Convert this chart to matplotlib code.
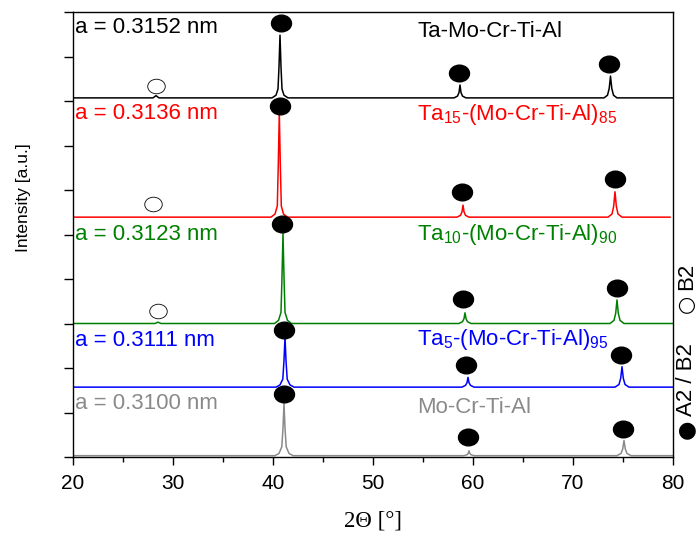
"""Stacked XRD patterns of Ta-Mo-Cr-Ti-Al alloys with lattice parameters."""
import matplotlib

matplotlib.use("Agg")
import matplotlib.pyplot as plt  # noqa: E402
from matplotlib.markers import MarkerStyle  # noqa: E402
from matplotlib.transforms import Affine2D  # noqa: E402

plt.rcParams["font.family"] = ["Liberation Sans", "DejaVu Sans"]
plt.rcParams["mathtext.fontset"] = "custom"
plt.rcParams["mathtext.rm"] = "Liberation Sans"

# --- data ----------------------------------------------------------------
compositions = [
    "Ta-Mo-Cr-Ti-Al",
    r"Ta$_\mathregular{15}$-(Mo-Cr-Ti-Al)$_\mathregular{85}$",
    r"Ta$_\mathregular{10}$-(Mo-Cr-Ti-Al)$_\mathregular{90}$",
    r"Ta$_\mathregular{5}$-(Mo-Cr-Ti-Al)$_\mathregular{95}$",
    "Mo-Cr-Ti-Al",
]
lattice = ["a = 0.3152 nm", "a = 0.3136 nm", "a = 0.3123 nm",
           "a = 0.3111 nm", "a = 0.3100 nm"]
colors = ["black", "#ff0000", "#008000", "#0000ff", "#8a8a8a"]
offsets = [8.07, 5.39, 3.00, 1.57, 0.03]

two_theta = [
    [20, 28.0, 28.3, 28.6, 39.9, 40.3, 40.5, 40.6, 40.7, 40.8, 40.9, 41.1, 41.5,
     58.1, 58.45, 58.6, 58.7, 58.8, 58.95, 59.3,
     73.1, 73.45, 73.62, 73.75, 73.88, 74.05, 74.4, 80],
    [20, 39.8, 40.2, 40.43, 40.53, 40.63, 40.73, 40.83, 41.05, 41.45,
     58.4, 58.75, 58.9, 59.0, 59.1, 59.25, 59.6,
     73.5, 73.9, 74.07, 74.2, 74.33, 74.5, 74.9, 79.7],
    [20, 28.2, 28.5, 28.8, 40.15, 40.55, 40.8, 40.9, 41.0, 41.1, 41.2, 41.45, 41.85,
     58.6, 58.95, 59.1, 59.2, 59.3, 59.45, 59.8,
     73.7, 74.1, 74.27, 74.4, 74.53, 74.7, 75.1, 80],
    [20, 40.3, 40.7, 40.98, 41.1, 41.2, 41.3, 41.42, 41.7, 42.1,
     58.9, 59.25, 59.4, 59.5, 59.6, 59.75, 60.1,
     74.2, 74.6, 74.77, 74.9, 75.03, 75.2, 75.6, 80],
    [20, 40.2, 40.6, 40.88, 41.0, 41.1, 41.2, 41.32, 41.6, 42.0,
     59.1, 59.4, 59.52, 59.6, 59.68, 59.8, 60.1,
     74.4, 74.8, 74.97, 75.1, 75.23, 75.4, 75.8, 80],
]
intensity = [
    [0, 0, 0.05, 0, 0, 0.06, 0.2, 0.7, 1.41, 0.7, 0.2, 0.06, 0,
     0, 0.04, 0.12, 0.29, 0.12, 0.04, 0,
     0, 0.06, 0.21, 0.49, 0.21, 0.06, 0, 0],
    [0, 0, 0.07, 0.25, 1.2, 2.34, 1.2, 0.25, 0.07, 0,
     0, 0.04, 0.12, 0.27, 0.12, 0.04, 0,
     0, 0.07, 0.25, 0.57, 0.25, 0.07, 0, 0],
    [0, 0, 0.03, 0, 0, 0.07, 0.25, 1.05, 2.03, 1.05, 0.25, 0.07, 0,
     0, 0.04, 0.11, 0.24, 0.11, 0.04, 0,
     0, 0.07, 0.23, 0.53, 0.23, 0.07, 0, 0],
    [0, 0, 0.05, 0.18, 0.6, 1.13, 0.6, 0.18, 0.05, 0,
     0, 0.04, 0.1, 0.22, 0.1, 0.04, 0,
     0, 0.06, 0.2, 0.46, 0.2, 0.06, 0, 0],
    [0, 0, 0.05, 0.2, 0.62, 1.18, 0.62, 0.2, 0.05, 0,
     0, 0.02, 0.05, 0.11, 0.05, 0.02, 0,
     0, 0.05, 0.15, 0.34, 0.15, 0.05, 0, 0],
]

# A2/B2 reflections (filled) and B2 superstructure reflections (open)
a2b2_x = [40.8, 58.6, 73.6, 40.7, 58.93, 74.2, 40.87, 59.03, 74.37,
          41.1, 59.3, 74.77, 41.1, 59.53, 74.97]
a2b2_y = [9.75, 8.62, 8.83, 7.89, 5.96, 6.25, 5.24, 3.54, 3.79,
          2.85, 2.07, 2.29, 1.41, 0.46, 0.64]
b2_x = [28.3, 28.03, 28.47]
b2_y = [8.34, 5.69, 3.29]

lattice_y = [9.52, 7.60, 4.88, 2.49, 1.07]
composition_y = [9.44, 7.57, 4.88, 2.52, 0.98]

# --- figure ---------------------------------------------------------------
fig = plt.figure(figsize=(6.98, 5.36), dpi=100)
ax = fig.add_axes([73 / 698, 79 / 536, 600 / 698, 445 / 536])

for xs, ys, off, col in zip(two_theta, intensity, offsets, colors):
    ax.plot(xs, [y + off for y in ys], color=col, lw=1.1, solid_joinstyle="round")

ellipse = MarkerStyle("o", transform=Affine2D().scale(1.2, 1.0))
ax.plot(a2b2_x, a2b2_y, ls="none", marker=ellipse, ms=12,
        mfc="black", mec="black", clip_on=False)
ax.plot(b2_x, b2_y, ls="none", marker=ellipse, ms=10.5,
        mfc="none", mec="black", mew=0.6)

for txt, y, col in zip(lattice, lattice_y, colors):
    ax.text(20.2, y, txt, color=col, fontsize=16, ha="left", va="baseline")
for txt, y, col in zip(compositions, composition_y, colors):
    ax.text(54.4, y, txt, color=col, fontsize=16, ha="left", va="baseline")

# phase legend written along the right spine
legend_kw = dict(transform=ax.transAxes, rotation=90, ha="center",
                 va="center", clip_on=False)
ax.text(1.022, 0.063, "\u25cf", fontsize=16, family="DejaVu Sans", **legend_kw)
ax.text(1.023, 0.175, "A2 / B2", fontsize=16, **legend_kw)
ax.text(1.022, 0.345, "\u25cb", fontsize=15, family="DejaVu Sans", **legend_kw)
ax.text(1.023, 0.407, "B2", fontsize=16, **legend_kw)

ax.set_xlim(20, 80)
ax.set_ylim(0, 10)
ax.set_xticks(range(20, 81, 10))
ax.set_xticks(range(25, 80, 10), minor=True)
ax.set_yticks(range(0, 11))
ax.set_yticklabels([])
ax.tick_params(axis="x", which="major", direction="out", length=6, width=1,
               labelsize=15, pad=6)
ax.tick_params(axis="x", which="minor", direction="out", length=3.5, width=1)
ax.tick_params(axis="y", direction="out", length=6.5, width=1)
for sp in ax.spines.values():
    sp.set_linewidth(1.0)

ax.set_xlabel("2\u0398 [\u00b0]", fontsize=16.5, family="Liberation Serif")
ax.xaxis.set_label_coords(0.5, -0.144)
ax.xaxis.label.set_va("center")
ax.set_ylabel("Intensity [a.u.]", fontsize=12.5)
ax.yaxis.set_label_coords(-0.082, 0.582)
ax.yaxis.label.set_va("center")

fig.savefig("out.png", dpi=100, facecolor="white")
